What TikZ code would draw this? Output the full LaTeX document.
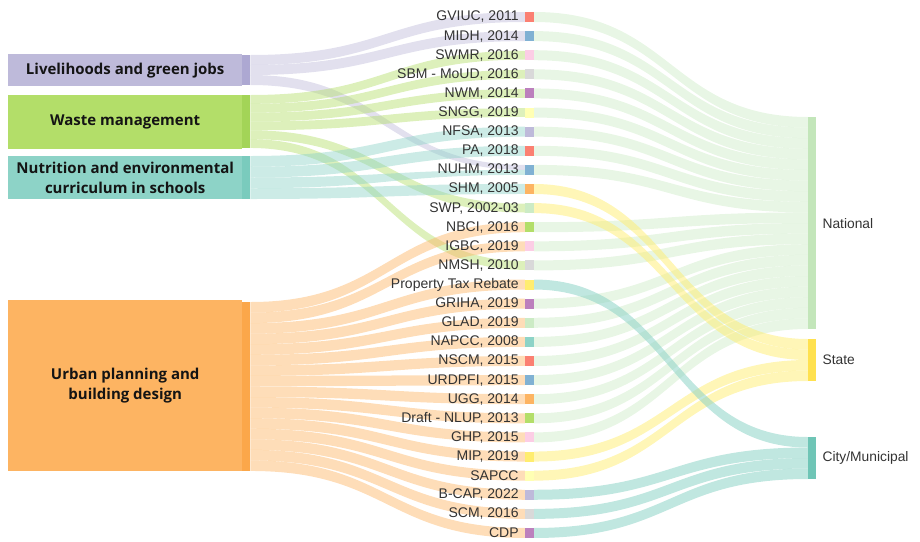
\documentclass[tikz,border=0pt]{standalone}
\usepackage{fontspec}
\setmainfont{Liberation Sans}
\newfontfamily\opensans{Open Sans}
\usetikzlibrary{calc}
\pgfdeclarelayer{background}
\pgfsetlayers{background,main}

% Set3-like palette
\definecolor{sTea}{HTML}{8DD3C7}
\definecolor{sPyl}{HTML}{FFFFB3}
\definecolor{sLav}{HTML}{BEBADA}
\definecolor{sRed}{HTML}{FB8072}
\definecolor{sBlu}{HTML}{80B1D3}
\definecolor{sOrg}{HTML}{FDB462}
\definecolor{sGrn}{HTML}{B3DE69}
\definecolor{sPnk}{HTML}{FCCDE5}
\definecolor{sGry}{HTML}{D9D9D9}
\definecolor{sPur}{HTML}{BC80BD}
\definecolor{sLgr}{HTML}{CCEBC5}
\definecolor{sYel}{HTML}{FFED6F}
% darker bars
\definecolor{sLavD}{HTML}{ADA8D2}
\definecolor{sGrnD}{HTML}{A3D457}
\definecolor{sTeaD}{HTML}{7ACBBD}
\definecolor{sOrgD}{HTML}{FBA74A}
\definecolor{natD}{HTML}{C3E6BA}
\definecolor{staD}{HTML}{FFE14F}
\definecolor{ctyD}{HTML}{6FC5B6}
\definecolor{txt}{HTML}{141414}
\definecolor{txt2}{HTML}{333333}

% band from a slot of one bar to a slot of another
\newcommand\flow[7]{%
  \fill[#1] ($(#2)+(0,#3)$) .. controls +(137.5,0) and +(-137.5,0) .. ($(#5)+(0,#6)$)
    -- ($(#5)+(0,#7)$) .. controls +(-137.5,0) and +(137.5,0) .. ($(#2)+(0,#4)$) -- cycle;}

\begin{document}
\begin{tikzpicture}[x=1pt, y=-1pt,
  catbox/.style={inner sep=0pt, anchor=north west, align=center, text=txt,
    font=\opensans\bfseries\fontsize{15}{19.5}\selectfont},
  bar/.style={inner sep=0pt, anchor=north west, minimum width=8pt},
  swatch/.style={inner sep=0pt, minimum width=9pt, minimum height=10pt},
  lbl/.style={anchor=east, inner sep=0pt, text=txt2, font=\fontsize{14}{16}\selectfont},
  rlbl/.style={anchor=west, inner sep=0pt, text=txt2, font=\fontsize{13.8}{16}\selectfont}]
\useasboundingbox (0,0) rectangle (920,541);

% categories
\node[catbox, fill=sLav, minimum width=234pt, minimum height=32pt] (lvh) at (8,54) {Livelihoods and green jobs};
\node[catbox, fill=sGrn, minimum width=234pt, minimum height=54pt] (wst) at (8,95) {Waste management};
\node[catbox, fill=sTea, minimum width=234pt, minimum height=43pt] (nut) at (8,156) {Nutrition and environmental\\curriculum in schools};
\node[catbox, fill=sOrg, minimum width=234pt, minimum height=171pt] (urb) at (8,300) {Urban planning and\\building design};

\node[bar, fill=sLavD, minimum height=30pt] (lvhbar) at (242,55) {};
\node[bar, fill=sGrnD, minimum height=53pt] (wstbar) at (242,95) {};
\node[bar, fill=sTeaD, minimum height=43pt] (nutbar) at (242,156) {};
\node[bar, fill=sOrgD, minimum height=169pt] (urbbar) at (242,302) {};

% policies
\foreach \lab/\col [count=\i] in {{GVIUC, 2011}/sRed, {MIDH, 2014}/sBlu, {SWMR, 2016}/sPnk,
    {SBM - MoUD, 2016}/sGry, {NWM, 2014}/sPur, {SNGG, 2019}/sPyl, {NFSA, 2013}/sLav,
    {PA, 2018}/sRed, {NUHM, 2013}/sBlu, {SHM, 2005}/sOrg, {SWP, 2002-03}/sLgr,
    {NBCI, 2016}/sGrn, {IGBC, 2019}/sPnk, {NMSH, 2010}/sGry, {Property Tax Rebate}/sYel,
    {GRIHA, 2019}/sPur, {GLAD, 2019}/sLgr, {NAPCC, 2008}/sTea, {NSCM, 2015}/sRed,
    {URDPFI, 2015}/sBlu, {UGG, 2014}/sOrg, {Draft - NLUP, 2013}/sGrn, {GHP, 2015}/sPnk,
    {MIP, 2019}/sYel, {SAPCC}/sPyl, {B-CAP, 2022}/sLav, {SCM, 2016}/sGry, {CDP}/sPur}
{
  \node[swatch, fill=\col] (m\i) at (529.5, 17+19.11*\i-19.11) {};
  \node[lbl] (t\i) at ($(m\i.west)+(-6,0)$) {\lab};
}

% levels
\node[bar, fill=natD, minimum height=212pt] (nat) at (808,117) {};
\node[bar, fill=staD, minimum height=42pt] (sta) at (808,339) {};
\node[bar, fill=ctyD, minimum height=42pt] (cty) at (808,437) {};
\node[rlbl] (natl) at ($(nat.east)+(6,0)$) {National};
\node[rlbl] (stal) at ($(sta.east)+(6,0)$) {State};
\node[rlbl] (ctyl) at ($(cty.east)+(6,0)$) {City/Municipal};

\begin{pgfonlayer}{background}
% categories -> policies
\foreach \t [count=\k from 0] in {1,2}
  \flow{sLav, fill opacity=.45}{lvhbar.north east}{\k*10}{\k*10+10}{m\t.west}{-5}{5};
\flow{sLav, fill opacity=.45}{lvhbar.north east}{20}{30}{m9.west}{-5}{0};
\foreach \t [count=\k from 0] in {3,4,5,6,11,14}
  \flow{sGrn, fill opacity=.45}{wstbar.north east}{\k*8.83}{\k*8.83+8.83}{m\t.west}{-4.4}{4.4};
\foreach \t/\a/\b [count=\k from 0] in {7/-5/5, 8/-5/5, 9/0/5, 10/-5/5}
  \flow{sTea, fill opacity=.45}{nutbar.north east}{\k*10.75}{\k*10.75+10.75}{m\t.west}{\a}{\b};
\foreach \t [count=\k from 0] in {12,13,15,16,17,18,19,20,21,22,23,24,25,26,27,28}
  \flow{sOrg, fill opacity=.45}{urbbar.north east}{\k*10.56}{\k*10.56+10.56}{m\t.west}{-5}{5};
% policies -> levels
\foreach \s [count=\k from 0] in {1,2,3,4,5,6,7,8,9,12,13,14,16,17,18,19,20,21,22,23}
  \flow{sLgr, fill opacity=.45}{m\s.east}{-5}{5}{nat.north west}{\k*10.6}{\k*10.6+10.6};
\foreach \s [count=\k from 0] in {10,11,24,25}
  \flow{sYel, fill opacity=.5}{m\s.east}{-5}{5}{sta.north west}{\k*10.5}{\k*10.5+10.5};
\foreach \s [count=\k from 0] in {15,26,27,28}
  \flow{sTea, fill opacity=.55}{m\s.east}{-5}{5}{cty.north west}{\k*10.5}{\k*10.5+10.5};
\end{pgfonlayer}
\end{tikzpicture}
\end{document}
